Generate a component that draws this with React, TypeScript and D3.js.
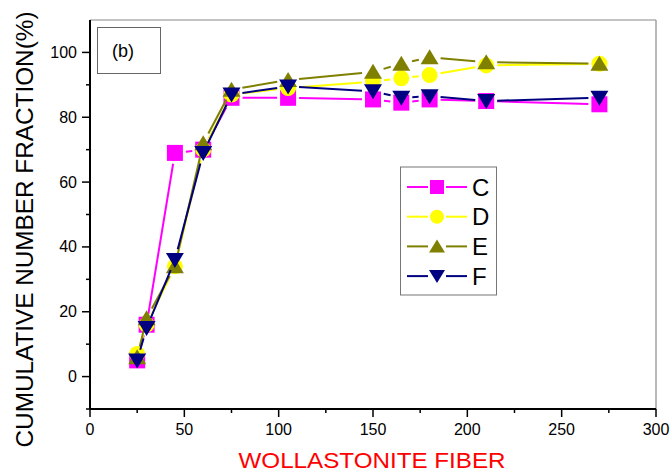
import React from "react";
import * as d3 from "d3";

const xValues = [25, 30, 45, 60, 75, 105, 150, 165, 180, 210, 270];
const seriesC = [5, 16, 69, 70, 86, 86, 85.5, 84.5, 85.5, 85, 84];
const seriesD = [7, 16, 34, 70, 87, 89, 91, 92, 93, 96, 96.5];
const seriesE = [6, 18, 34, 72, 88.5, 91.5, 94, 96.5, 98.5, 97, 96.5];
const seriesF = [5, 15, 36, 69, 87, 89.5, 88, 86, 86.5, 85, 86];
const seriesNames = ["C", "D", "E", "F"];
const xTicks = [0, 50, 100, 150, 200, 250, 300];
const yTicks = [0, 20, 40, 60, 80, 100];

const colors = ["#FF00FF", "#FFFF00", "#808000", "#000080"];
const shapes = ["square", "circle", "up", "down"];

const W = 670;
const H = 472;
const left = 90, right = 656, top = 20, bottom = 409;
const FONT = "'Liberation Sans', Arial, sans-serif";

function marker(shape: string, x: number, y: number, s: number, color: string, key?: string) {
  const h = s / 2;
  if (shape === "square") return <rect key={key} x={x - h} y={y - h} width={s} height={s} fill={color} />;
  if (shape === "circle") return <circle key={key} cx={x} cy={y} r={h} fill={color} />;
  if (shape === "up")
    return <path key={key} d={`M${x},${y - h}L${x + h + 1},${y + h - 1}L${x - h - 1},${y + h - 1}Z`} fill={color} />;
  return <path key={key} d={`M${x},${y + h}L${x + h + 1},${y - h + 1}L${x - h - 1},${y - h + 1}Z`} fill={color} />;
}

export default function App() {
  const x = d3.scaleLinear().domain([0, 300]).range([left, right]);
  const y = d3.scaleLinear().domain([-10, 110]).range([bottom, top]);
  const all = [seriesC, seriesD, seriesE, seriesF];
  const gap = 11;
  const xMinor = d3.range(25, 300, 50);
  const yMinor = d3.range(-10, 110, 20);

  return (
    <svg width={W} height={H} style={{ position: "absolute", left: 0, top: 0, background: "#fff" }} fontFamily={FONT}>
      <rect width={W} height={H} fill="#fff" />
      {/* frame */}
      <line x1={left} x2={right} y1={top} y2={top} stroke="#8a8a8a" strokeWidth={1.2} />
      <line x1={right} x2={right} y1={top} y2={bottom} stroke="#8a8a8a" strokeWidth={1.2} />
      {/* (b) box */}
      <rect x={97.5} y={27.5} width={63} height={46} fill="none" stroke="#666" strokeWidth={1} />
      <text x={112} y={57} fontSize={18} fill="#000">(b)</text>
      {/* series */}
      {all.map((vals, si) => {
        const pts = vals.map((v, i) => [x(xValues[i]), y(v)] as [number, number]);
        const segs = [] as any[];
        for (let i = 0; i < pts.length - 1; i++) {
          const [x0, y0] = pts[i];
          const [x1, y1] = pts[i + 1];
          const dx = x1 - x0, dy = y1 - y0;
          const len = Math.hypot(dx, dy);
          if (len <= 2 * gap) continue;
          const ux = dx / len, uy = dy / len;
          segs.push(
            <line key={`s${si}-${i}`} x1={x0 + ux * gap} y1={y0 + uy * gap} x2={x1 - ux * gap} y2={y1 - uy * gap}
              stroke={colors[si]} strokeWidth={2} />
          );
        }
        return (
          <g key={si}>
            {segs}
            {pts.map((p, i) => marker(shapes[si], p[0], p[1], 16, colors[si], `m${si}-${i}`))}
          </g>
        );
      })}
      {/* axes */}
      <line x1={left} x2={left} y1={top} y2={bottom} stroke="#000" strokeWidth={2} />
      <line x1={left} x2={right} y1={bottom} y2={bottom} stroke="#000" strokeWidth={2} />
      {yTicks.map((t) => (
        <g key={`yt${t}`}>
          <line x1={left - 8} x2={left} y1={y(t)} y2={y(t)} stroke="#000" strokeWidth={1.5} />
          <text x={left - 13} y={y(t) + 5.5} fontSize={16} textAnchor="end" fill="#000">{t}</text>
        </g>
      ))}
      {yMinor.map((t) => (
        <line key={`ym${t}`} x1={left - 4} x2={left} y1={y(t)} y2={y(t)} stroke="#000" strokeWidth={1.5} />
      ))}
      {xTicks.map((t) => (
        <g key={`xt${t}`}>
          <line x1={x(t)} x2={x(t)} y1={bottom} y2={bottom + 8} stroke="#000" strokeWidth={1.5} />
          <text x={x(t)} y={435} fontSize={16} textAnchor="middle" fill="#000">{t}</text>
        </g>
      ))}
      {xMinor.map((t) => (
        <line key={`xm${t}`} x1={x(t)} x2={x(t)} y1={bottom} y2={bottom + 4} stroke="#000" strokeWidth={1.5} />
      ))}
      {/* titles */}
      <text x={372} y={468} fontSize={22} fill="#FF0000" textAnchor="middle" textLength={267} lengthAdjust="spacingAndGlyphs">
        WOLLASTONITE FIBER
      </text>
      <text transform={`translate(33,229.5) rotate(-90)`} fontSize={24.5} fill="#000" textAnchor="middle"
        textLength={436} lengthAdjust="spacingAndGlyphs">
        CUMULATIVE NUMBER FRACTION(%)
      </text>
      {/* legend */}
      <rect x={400.5} y={167} width={96} height={128} fill="#fff" stroke="#777" strokeWidth={1} />
      {seriesNames.map((n, i) => {
        const ly = 187 + i * 29.7;
        return (
          <g key={`lg${n}`}>
            <line x1={407} x2={428} y1={ly} y2={ly} stroke={colors[i]} strokeWidth={2} />
            <line x1={446} x2={467} y1={ly} y2={ly} stroke={colors[i]} strokeWidth={2} />
            {marker(shapes[i], 437, ly, 14, colors[i])}
            <text x={472} y={ly + 8.5} fontSize={24} fill="#000">{n}</text>
          </g>
        );
      })}
    </svg>
  );
}
